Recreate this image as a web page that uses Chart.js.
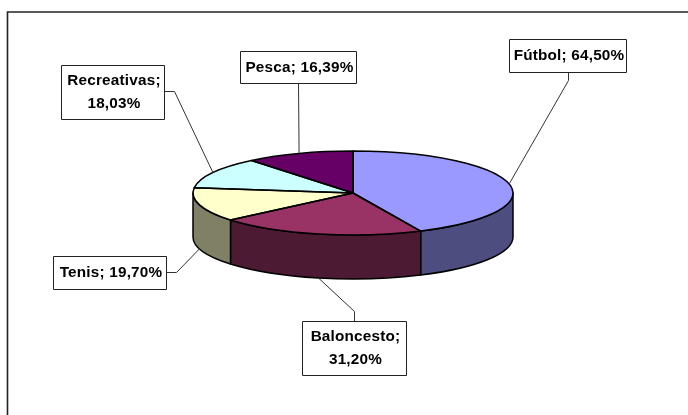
<!DOCTYPE html>
<html><head><meta charset="utf-8">
<style>html,body{margin:0;padding:0;background:#fff}canvas{display:block}</style>
<script src="https://cdn.jsdelivr.net/npm/chart.js@4"></script>
</head><body><canvas id="c" width="688" height="415"></canvas>
<script>
const categories = ['Fútbol','Baloncesto','Tenis','Recreativas','Pesca'];
const shares = [64.50,31.20,19.70,18.03,16.39];
const topColors = ['#9999FF','#993366','#FFFFCC','#CCFFFF','#660066'];
const sideColors = ['#4D4D80','#4D1A33','#808066','#668080','#330033'];
const labelLines = [['Fútbol; 64,50%'],['Baloncesto;','31,20%'],['Tenis; 19,70%'],['Recreativas;','18,03%'],['Pesca; 16,39%']];

const SQUASH = 42/160, DEPTH = 44;
const boxes = [
 {x:509,y:39,w:117,h:33,elbow:[568,80],exit:[568,72]},
 {x:302,y:321,w:104,h:54,elbow:[354,311],exit:[354,321]},
 {x:53,y:256,w:113,h:33,elbow:[176,272],exit:[166,272]},
 {x:61,y:65,w:103,h:54,elbow:[174,91],exit:[164,91]},
 {x:240,y:51,w:116,h:32,elbow:[298,83],exit:[298,83]}
];
const FONT = 'bold 15.3px "Liberation Sans", Arial, sans-serif';
const TWO_PI = Math.PI*2;

function sidePath(ctx,cx,cy,r,a0,a1){
  const ry = r*SQUASH;
  ctx.beginPath();
  ctx.ellipse(cx,cy,r,ry,0,a0,a1,false);
  ctx.lineTo(cx+r*Math.cos(a1),cy+ry*Math.sin(a1)+DEPTH);
  ctx.ellipse(cx,cy+DEPTH,r,ry,0,a1,a0,true);
  ctx.closePath();
}
// front-facing part of an arc (canvas angles 0..PI, tested over whole turns)
function frontPart(a0,a1){
  for(const k of [-1,0,1]){
    const lo=Math.max(a0+k*TWO_PI,0),hi=Math.min(a1+k*TWO_PI,Math.PI);
    if(hi>lo) return [lo,hi];
  }
  return null;
}
const squashPlugin = {
  id:'squash3d',
  beforeDatasetsDraw(chart){
    const ctx=chart.ctx, arcs=chart.getDatasetMeta(0).data;
    ctx.lineWidth=1.5; ctx.strokeStyle='#000'; ctx.lineJoin='round';
    arcs.forEach((a,i)=>{
      const f=frontPart(a.startAngle,a.endAngle);
      if(!f) return;
      sidePath(ctx,a.x,a.y,a.outerRadius,f[0],f[1]);
      ctx.fillStyle=sideColors[i]; ctx.fill(); ctx.stroke();
    });
    const a=arcs[0];
    ctx.save();
    ctx.translate(a.x,a.y); ctx.scale(1,SQUASH); ctx.translate(-a.x,-a.y);
  },
  afterDatasetsDraw(chart){
    const ctx=chart.ctx, arcs=chart.getDatasetMeta(0).data;
    ctx.restore();
    ctx.lineWidth=1.5; ctx.strokeStyle='#000';
    arcs.forEach(a=>{
      const ry=a.outerRadius*SQUASH;
      ctx.beginPath();
      ctx.moveTo(a.x,a.y);
      ctx.ellipse(a.x,a.y,a.outerRadius,ry,0,a.startAngle,a.endAngle,false);
      ctx.closePath(); ctx.stroke();
    });
    // leaders and label boxes
    arcs.forEach((a,i)=>{
      const b=boxes[i], mid=(a.startAngle+a.endAngle)/2;
      const px=a.x+a.outerRadius*Math.cos(mid);
      let py=a.y+a.outerRadius*SQUASH*Math.sin(mid);
      const m=((mid%TWO_PI)+TWO_PI)%TWO_PI;
      if(m>0.35&&m<Math.PI) py+=DEPTH;
      ctx.strokeStyle='#333'; ctx.lineWidth=1;
      ctx.beginPath(); ctx.moveTo(px,py); ctx.lineTo(b.elbow[0]+.5,b.elbow[1]+.5); ctx.lineTo(b.exit[0]+.5,b.exit[1]+.5); ctx.stroke();
      ctx.fillStyle='#fff'; ctx.fillRect(b.x,b.y,b.w,b.h);
      ctx.strokeStyle='#222'; ctx.lineWidth=1;
      ctx.strokeRect(b.x+.5,b.y+.5,b.w,b.h);
      ctx.fillStyle='#000'; ctx.font=FONT; ctx.letterSpacing='0.2px'; ctx.textAlign='center'; ctx.textBaseline='middle';
      const lines=labelLines[i], lh=23;
      lines.forEach((t,k)=>ctx.fillText(t,b.x+b.w/2+1.5,b.y+b.h/2+.5+(k-(lines.length-1)/2)*lh));
      ctx.letterSpacing='0px';
    });
  }
};
const framePlugin = {
  id:'frame',
  beforeDraw(chart){
    const ctx=chart.ctx;
    ctx.save(); ctx.fillStyle='#fff'; ctx.fillRect(0,0,688,415);
    ctx.strokeStyle='#222'; ctx.lineWidth=1.6;
    ctx.beginPath(); ctx.moveTo(7.5,420); ctx.lineTo(7.5,12); ctx.lineTo(700,12); ctx.stroke();
    ctx.restore();
  }
};
new Chart(document.getElementById('c'),{
  type:'pie',
  data:{labels:categories,datasets:[{data:shares,backgroundColor:topColors,borderWidth:0}]},
  options:{
    responsive:false,animation:false,
    layout:{padding:{left:193,right:175,top:33,bottom:62}},
    plugins:{legend:{display:false},tooltip:{enabled:false},title:{display:false}}
  },
  plugins:[framePlugin,squashPlugin]
});
</script></body></html>
